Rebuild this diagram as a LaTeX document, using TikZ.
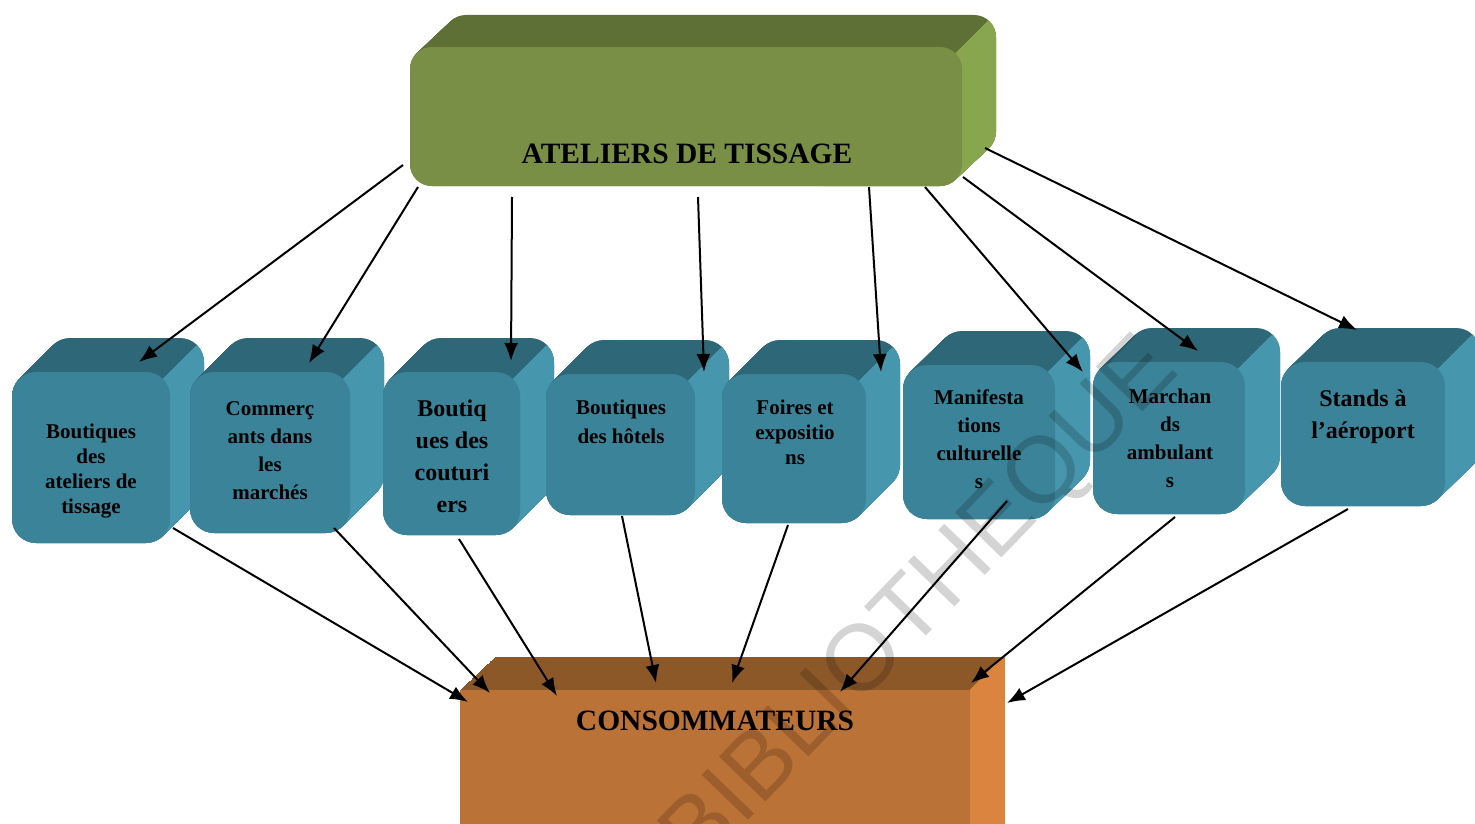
\documentclass[tikz,border=0pt]{standalone}
\usepackage{fontspec}
\setmainfont{Liberation Serif}
\setsansfont{Liberation Sans}
\usetikzlibrary{arrows.meta}
\definecolor{tfront}{HTML}{3A8398}
\definecolor{ttop}{HTML}{2E6777}
\definecolor{tside}{HTML}{4696AE}
\definecolor{gfront}{HTML}{788F45}
\definecolor{gtop}{HTML}{5E7035}
\definecolor{gside}{HTML}{88A64E}
\definecolor{ofront}{HTML}{BB7236}
\definecolor{otop}{HTML}{8D5828}
\definecolor{oside}{HTML}{DA843F}
% #1 name, #2 x1, #3 y1, #4 x2, #5 y2 (front face), #6 dx, #7 dy (depth), #8 radius, #9 colour prefix
\newcommand\boxsolid[9]{%
  \foreach \k in {0,...,60}{%
    \fill[#9top,rounded corners=#8] ({#2+\k*#6/60},{#3-\k*#7/60}) rectangle ({#4+\k*#6/60},{#5-\k*#7/60});}
  \begin{scope}
    \clip ({#4-2000},{#3+2000}) -- ({#4+2000},{#3-2000}) -- ({#4+2000},{#3+2000}) -- cycle;
    \foreach \k in {0,...,60}{%
      \fill[#9side,rounded corners=#8] ({#2+\k*#6/60},{#3-\k*#7/60}) rectangle ({#4+\k*#6/60},{#5-\k*#7/60});}
  \end{scope}
  \node[fill=#9front,rounded corners=#8,inner sep=0pt,outer sep=0pt,anchor=north west,
        minimum width={#4-#2},minimum height={#5-#3}] (#1) at (#2,#3) {};
}
\tikzset{
  lbl/.style={align=center,inner sep=0pt,text=black,font=\bfseries\fontsize{21}{25}\selectfont},
  arr/.style={line width=2pt,-{Latex[length=18pt,width=14pt]}},
}
\begin{document}
\begin{tikzpicture}[x=1pt,y=-1pt]
\useasboundingbox (0,0) rectangle (1475,824);
\clip (0,0) rectangle (1475,824);
\fill[white] (0,0) rectangle (1475,824);

% top box
\boxsolid{ateliers}{410}{47}{962}{186}{34}{32}{22}{g}
\node[lbl,font=\bfseries\fontsize{29.5}{33}\selectfont] (tA) at (687,154) {ATELIERS DE TISSAGE};

% bottom box
\boxsolid{conso}{460}{690}{970}{900}{35}{33}{0}{o}
\node[lbl,font=\bfseries\fontsize{29.5}{33}\selectfont] (tC) at (715,721) {CONSOMMATEURS};

% middle boxes
\boxsolid{b1}{12}{372}{170}{543}{34}{34}{24}{t}
\boxsolid{b2}{190}{372}{350}{533}{34}{34}{24}{t}
\boxsolid{b3}{383}{372}{520}{535}{34}{34}{24}{t}
\boxsolid{b4}{546}{374}{695}{515}{34}{34}{24}{t}
\boxsolid{b5}{722}{374}{866}{523}{34}{34}{24}{t}
\boxsolid{b6}{903}{365}{1055}{519}{35}{34}{24}{t}
\boxsolid{b7}{1093}{362}{1245}{514}{35}{34}{24}{t}
\boxsolid{b8}{1281}{362}{1445}{506}{35}{34}{24}{t}

\node[lbl,anchor=north] (t1) at (91,424) {Boutiques\\des\\ateliers de\\tissage};
\node[lbl,anchor=north,font=\bfseries\fontsize{21}{28}\selectfont] (t2) at (270,401) {Commerç\\ants dans\\les\\marchés};
\node[lbl,anchor=north,font=\bfseries\fontsize{24}{32}\selectfont] (t3) at (452,400) {Boutiq\\ues des\\couturi\\ers};
\node[lbl,anchor=north,font=\bfseries\fontsize{21}{29}\selectfont] (t4) at (621,400) {Boutiques\\des hôtels};
\node[lbl,anchor=north] (t5) at (795,400) {Foires et\\expositio\\ns};
\node[lbl,anchor=north,font=\bfseries\fontsize{21}{28}\selectfont] (t6) at (979,390) {Manifesta\\tions\\culturelle\\s};
\node[lbl,anchor=north,font=\bfseries\fontsize{21}{28}\selectfont] (t7) at (1170,389) {Marchan\\ds\\ambulant\\s};
\node[lbl,anchor=north,font=\bfseries\fontsize{24}{32}\selectfont] (t8) at (1363,390) {Stands à\\l’aéroport};

% arrows from the workshops
\draw[arr] ([shift={(-7,-21)}]ateliers.south west) -- ([shift={(127,-10)}]b1.north west);
\draw[arr] ([shift={(8,1)}]ateliers.south west) -- ([shift={(119,-9)}]b2.north west);
\draw[arr] ([shift={(102,11)}]ateliers.south west) -- ([shift={(128,-11)}]b3.north west);
\draw[arr] ([shift={(288,11)}]ateliers.south west) -- ([shift={(158,-2)}]b4.north west);
\draw[arr] ([shift={(459,1)}]ateliers.south west) -- ([shift={(159,-2)}]b5.north west);
\draw[arr] ([shift={(515,1)}]ateliers.south west) -- ([shift={(180,7)}]b6.north west);
\draw[arr] ([shift={(553,-9)}]ateliers.south west) -- ([shift={(105,-11)}]b7.north west);
\draw[arr] ([shift={(575,-38)}]ateliers.south west) -- ([shift={(76,-32)}]b8.north west);

% arrows to consumers
\draw[arr] ([shift={(161,156)}]b1.north west) -- ([shift={(8,12)}]conso.north west);
\draw[arr] ([shift={(144,156)}]b2.north west) -- ([shift={(30,3)}]conso.north west);
\draw[arr] ([shift={(76,167)}]b3.north west) -- ([shift={(97,6)}]conso.north west);
\draw[arr] ([shift={(76,142)}]b4.north west) -- ([shift={(196,-7)}]conso.north west);
\draw[arr] ([shift={(66,151)}]b5.north west) -- ([shift={(272,-7)}]conso.north west);
\draw[arr] ([shift={(104,136)}]b6.north west) -- ([shift={(380,2)}]conso.north west);
\draw[arr] ([shift={(82,155)}]b7.north west) -- ([shift={(511,-7)}]conso.north west);
\draw[arr] ([shift={(67,147)}]b8.north west) -- ([shift={(547,13)}]conso.north west);

% watermark
\node[rotate=46,anchor=base,inner sep=0pt,text=black,text opacity=0.17,
      font=\sffamily\fontsize{94}{94}\selectfont] (wm) at (940,622) {BIBLIOTHEQUE};
\end{tikzpicture}
\end{document}
